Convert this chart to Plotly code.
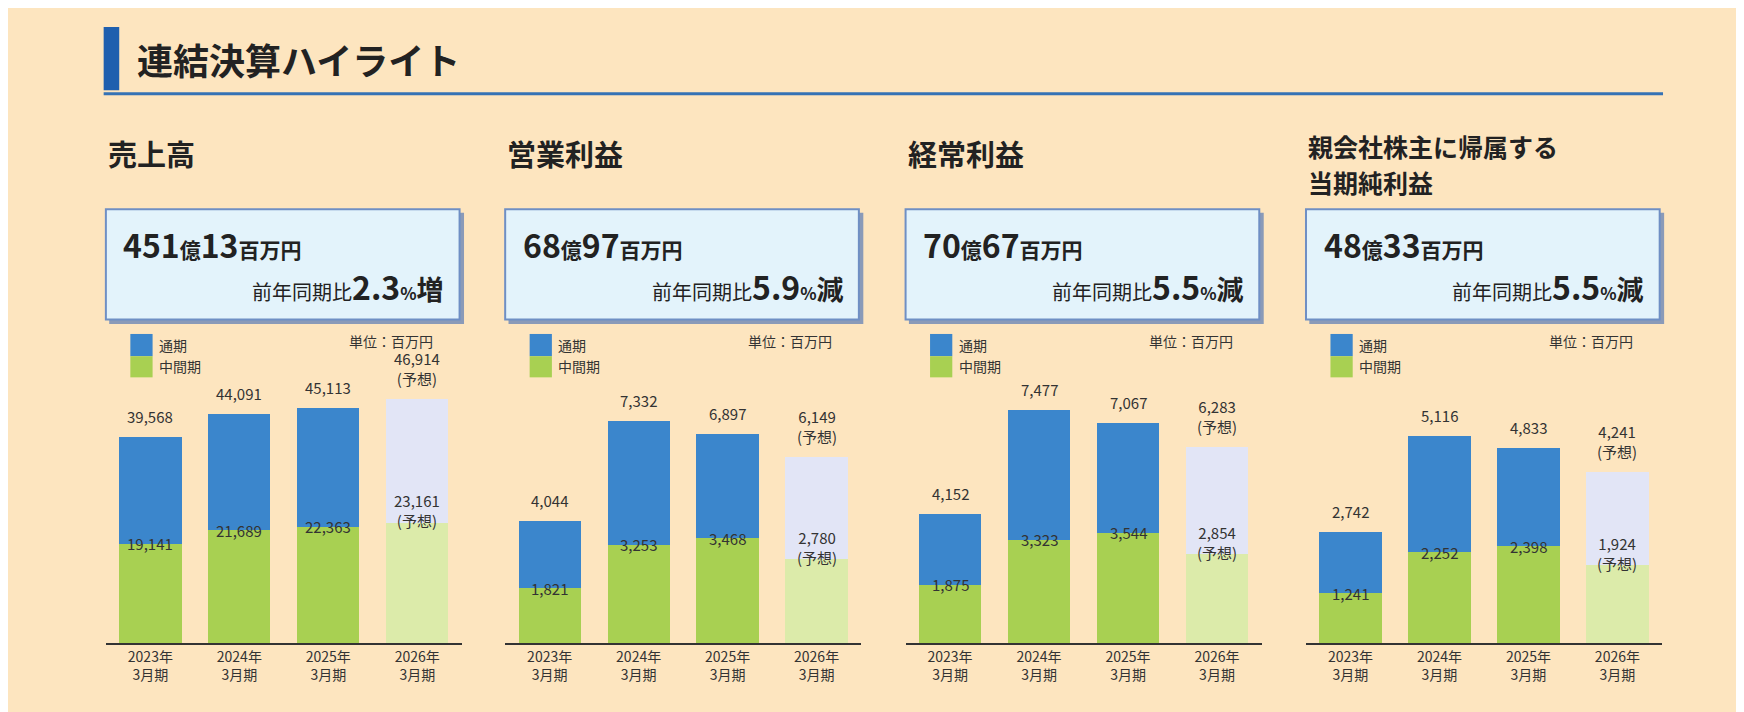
import plotly.graph_objects as go

years = ["2023年<br>3月期", "2024年<br>3月期", "2025年<br>3月期", "2026年<br>3月期"]
titles = [["売上高"], ["営業利益"], ["経常利益"], ["親会社株主に帰属する", "当期純利益"]]
full_year = [[39568, 44091, 45113, 46914], [4044, 7332, 6897, 6149],
             [4152, 7477, 7067, 6283], [2742, 5116, 4833, 4241]]
interim = [[19141, 21689, 22363, 23161], [1821, 3253, 3468, 2780],
           [1875, 3323, 3544, 2854], [1241, 2252, 2398, 1924]]
headline_oku = ["451", "68", "70", "48"]
headline_man = ["13", "97", "67", "33"]
yoy_pct = ["2.3", "5.9", "5.5", "5.5"]
yoy_dir = ["増", "減", "減", "減"]
y_max = [51500, 8850, 8600, 6630]

W, H = 1744, 712
def px(x): return x / 1568
def py(y): return 1 - y / 640

FONT = "Noto Sans CJK JP"
BG = "#fde5bf"
fig = go.Figure()
panel_x = [(88, 408), (447, 767), (807, 1127), (1167, 1487)]
annotations, shapes = [], []
bar_dom = [py(571), py(330)]

for i in range(4):
    xa = "x" if i == 0 else f"x{i+1}"
    ya = "y" if i == 0 else f"y{i+1}"
    top = [f - m for f, m in zip(full_year[i], interim[i])]
    green = ["#a8d052"] * 3 + ["#dcebaa"]
    blue = ["#3b86cc"] * 3 + ["#e2e5f6"]
    fig.add_bar(x=years, y=interim[i], marker=dict(color=green, line=dict(width=0)),
                xaxis=xa, yaxis=ya, width=0.7, showlegend=False, hoverinfo="skip")
    fig.add_bar(x=years, y=top, marker=dict(color=blue, line=dict(width=0)),
                xaxis=xa, yaxis=ya, width=0.7, showlegend=False, hoverinfo="skip")
    x0, x1 = panel_x[i]
    fig.update_layout(**{
        ("xaxis" if i == 0 else f"xaxis{i+1}"): dict(domain=[px(x0), px(x1)], anchor=ya,
            showline=True, linecolor="#333", linewidth=1.5, ticks="", showgrid=False,
            tickfont=dict(size=14, color="#333"), fixedrange=True),
        ("yaxis" if i == 0 else f"yaxis{i+1}"): dict(domain=bar_dom, anchor=xa, range=[0, y_max[i]],
            visible=False, showgrid=False),
    })
    for j in range(4):
        fc = j == 3
        annotations.append(dict(x=years[j], y=full_year[i][j], xref=xa, yref=ya,
            text=f"{full_year[i][j]:,}" + ("<br>(予想)" if fc else ""), showarrow=False,
            yanchor="bottom", yshift=8, font=dict(size=15, color="#333")))
        annotations.append(dict(x=years[j], y=interim[i][j], xref=xa, yref=ya,
            text=f"{interim[i][j]:,}" + ("<br>(予想)" if fc else ""), showarrow=False,
            yanchor="middle", yshift=12 if fc else 0, font=dict(size=15, color="#333")))
    # title
    if len(titles[i]) == 1:
        tl = [(titles[i][0], 130, 29)]
    else:
        tl = [(titles[i][0], 124, 25), (titles[i][1], 156, 25)]
    for t, ty, fs in tl:
        annotations.append(dict(x=px(x0), y=py(ty), xref="paper", yref="paper", xanchor="left",
            yanchor="middle", showarrow=False, align="left", text=f"<b>{t}</b>",
            font=dict(size=fs, color="#222")))
    # box
    shapes.append(dict(type="rect", xref="paper", yref="paper", x0=px(x0 + 3), x1=px(x0 + 322),
        y0=py(284), y1=py(184), fillcolor="#8a9ab8", line=dict(width=0)))
    shapes.append(dict(type="rect", xref="paper", yref="paper", x0=px(x0), x1=px(x0 + 318),
        y0=py(280), y1=py(181), fillcolor="#e3f3fb", line=dict(color="#6f8fc4", width=2)))
    annotations.append(dict(x=px(x0 + 14), y=py(212), xref="paper", yref="paper", xanchor="left",
        yanchor="middle", showarrow=False,
        text=f"<b><span style='font-size:32px'>{headline_oku[i]}</span>億"
             f"<span style='font-size:32px'>{headline_man[i]}</span>百万円</b>",
        font=dict(size=21, color="#222")))
    annotations.append(dict(x=px(x0 + 306), y=py(250), xref="paper", yref="paper", xanchor="right",
        yanchor="middle", showarrow=False,
        text=f"前年同期比<b><span style='font-size:32px'>{yoy_pct[i]}</span>"
             f"<span style='font-size:17px'>%</span><span style='font-size:27px'>{yoy_dir[i]}</span></b>",
        font=dict(size=20, color="#222")))
    # legend
    shapes.append(dict(type="rect", xref="paper", yref="paper", x0=px(x0 + 22), x1=px(x0 + 42),
        y0=py(313), y1=py(293), fillcolor="#3b86cc", line=dict(width=0)))
    shapes.append(dict(type="rect", xref="paper", yref="paper", x0=px(x0 + 22), x1=px(x0 + 42),
        y0=py(332), y1=py(313), fillcolor="#a8d052", line=dict(width=0)))
    for lbl, yy in (("通期", 303), ("中間期", 322)):
        annotations.append(dict(x=px(x0 + 46), y=py(yy), xref="paper", yref="paper", xanchor="left",
            yanchor="middle", showarrow=False, text=lbl, font=dict(size=14, color="#333")))
    annotations.append(dict(x=px(x0 + 296), y=py(299), xref="paper", yref="paper", xanchor="right",
        yanchor="middle", showarrow=False, text="単位：百万円", font=dict(size=14, color="#333")))

# page header
shapes.append(dict(type="rect", xref="paper", yref="paper", x0=px(86), x1=px(100),
    y0=py(74), y1=py(17), fillcolor="#1f5fae", line=dict(width=0)))
shapes.append(dict(type="line", xref="paper", yref="paper", x0=px(86), x1=px(1488),
    y0=py(77), y1=py(77), line=dict(color="#3572b5", width=3)))
annotations.append(dict(x=px(114), y=py(46), xref="paper", yref="paper", xanchor="left",
    yanchor="middle", showarrow=False, text="<b>連結決算ハイライト</b>", font=dict(size=36, color="#222")))

fig.update_layout(width=W, height=H, barmode="stack", bargap=0.3,
    paper_bgcolor=BG, plot_bgcolor=BG, margin=dict(l=0, r=0, t=0, b=0),
    font=dict(family=FONT), annotations=annotations, shapes=shapes, showlegend=False)
fig.write_html("out.html")
